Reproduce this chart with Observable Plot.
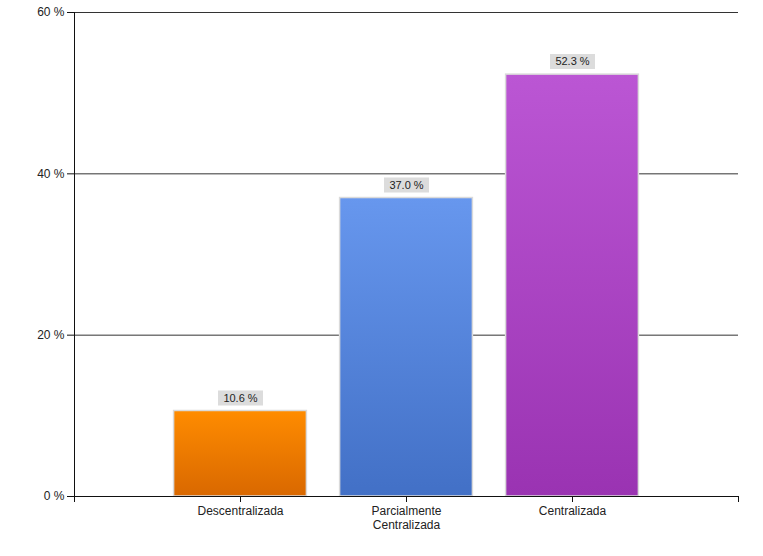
<!DOCTYPE html>
<html>
<head>
<meta charset="utf-8">
<script src="https://cdn.jsdelivr.net/npm/d3@7"></script>
<script src="https://cdn.jsdelivr.net/npm/@observablehq/plot@0.6"></script>
<style>
  html, body { margin: 0; padding: 0; background: #fff; }
  #chart { width: 763px; height: 556px; }
  svg { font-family: "Liberation Sans", Arial, sans-serif; }
</style>
</head>
<body>
<div id="chart"></div>
<script>
const categories = ["Descentralizada", "Parcialmente\nCentralizada", "Centralizada"];
const values = [10.6, 37.0, 52.3];
const labels = ["10.6 %", "37.0 %", "52.3 %"];
const gradTop = ["#ff8c00", "#6797ee", "#bb56d4"];
const gradBottom = ["#d96800", "#4270c6", "#9a33b2"];
const yTicks = [0, 20, 40, 60];

const data = categories.map((c, i) => ({pos: i + 1, name: c, value: values[i], label: labels[i], grad: `url(#grad${i})`}));

// rectangular label-box symbol
const boxSymbol = {draw(context) { context.rect(-22.5, -7.5, 45, 15); }};

const plot = Plot.plot({
  width: 763,
  height: 556,
  marginLeft: 74,
  marginRight: 25,
  marginTop: 12,
  marginBottom: 60,
  style: {fontFamily: "Liberation Sans, Arial, sans-serif", fontSize: "12px", color: "#222", background: "#fff"},
  x: {type: "linear", domain: [0, 4]},
  y: {domain: [0, 60]},
  marks: [
    Plot.ruleY(yTicks.slice(1), {stroke: "#333", strokeWidth: 1}),
    ...data.map(d => Plot.rectY([d], {x1: dd => dd.pos - 0.4, x2: dd => dd.pos + 0.4, y1: 0, y2: "value", fill: d.grad, stroke: "#dadada", strokeWidth: 1.5})),
    Plot.ruleY([0], {stroke: "#111"}),
    Plot.ruleX([0], {stroke: "#111"}),
    Plot.axisY({ticks: yTicks, tickFormat: d => d + " %", tickSize: 7, tickPadding: 3, stroke: "#111", fill: "#222", fontSize: 12, label: null}),
    Plot.axisX({ticks: [0, 1, 2, 3, 4], tickFormat: () => "", tickSize: 6, stroke: "#111", label: null}),
    Plot.text(data, {x: "pos", y: 0, text: "name", lineAnchor: "top", dy: 9, lineHeight: 1.15, fontSize: 12, fill: "#222"}),
    Plot.dot(data, {x: "pos", y: "value", dy: -13, symbol: boxSymbol, r: 10, fill: "#dcdcdc", stroke: "none"}),
    Plot.text(data, {x: "pos", y: "value", text: "label", dy: -13, fontSize: 11, fill: "#222"})
  ]
});

const svg = d3.select(plot);
const defs = svg.insert("defs", ":first-child");
gradTop.forEach((c, i) => {
  const g = defs.append("linearGradient").attr("id", `grad${i}`).attr("x1", 0).attr("y1", 0).attr("x2", 0).attr("y2", 1);
  g.append("stop").attr("offset", "0%").attr("stop-color", c);
  g.append("stop").attr("offset", "100%").attr("stop-color", gradBottom[i]);
});

document.getElementById("chart").appendChild(plot);
</script>
</body>
</html>
